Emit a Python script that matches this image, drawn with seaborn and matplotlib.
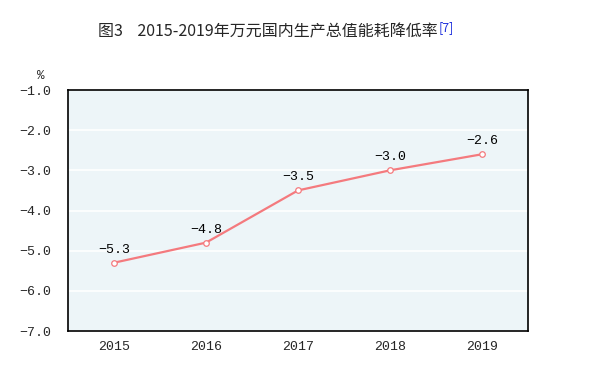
import matplotlib
matplotlib.use('Agg')
import matplotlib.pyplot as plt
import seaborn as sns
import pandas as pd

# data
years = ['2015', '2016', '2017', '2018', '2019']
rate = [-5.3, -4.8, -3.5, -3.0, -2.6]
y_ticks = [-7.0, -6.0, -5.0, -4.0, -3.0, -2.0, -1.0]

title_main = '图3    2015-2019年万元国内生产总值能耗降低率'
title_note = '[7]'

df = pd.DataFrame({'pos': range(len(years)), 'year': years, 'rate': rate})

sns.set_style('white')
plt.rcParams['font.family'] = ['Noto Sans CJK SC', 'DejaVu Sans']

mono = 'Liberation Mono'
line_color = '#F47A7E'


def fmt(v):
    return f'{v:.1f}'.replace('-', '\u2212')


fig = plt.figure(figsize=(6.01, 3.73), dpi=100)
ax = fig.add_axes([68 / 601, 1 - 331 / 373, 460 / 601, 241 / 373])
ax.set_facecolor('#EDF5F8')

sns.lineplot(data=df, x='pos', y='rate', ax=ax, color=line_color, linewidth=1.6,
             marker='o', markersize=4, markerfacecolor='white',
             markeredgecolor=line_color, markeredgewidth=0.9)

for i, v in enumerate(rate):
    ax.annotate(fmt(v), (i, v), xytext=(0, 5),
                textcoords='offset points', ha='center', va='bottom',
                fontsize=9.5, family=mono, color='black')

ax.set_xlim(-0.5, len(years) - 0.5)
ax.set_ylim(-7.0, -1.0)
ax.set_yticks(y_ticks)
ax.set_yticklabels([fmt(t) for t in y_ticks], family=mono, fontsize=9.5)

# category boundaries get the tick marks, labels sit in the middle
ax.set_xticks([i + 0.5 for i in range(len(years) - 1)])
ax.set_xticklabels([])
ax.set_xticks(range(len(years)), minor=True)
ax.set_xticklabels(years, minor=True, family=mono, fontsize=9.5)
ax.tick_params(axis='x', which='major', direction='in', length=4, width=1, color='black')
ax.tick_params(axis='x', which='minor', length=0, pad=7)
ax.tick_params(axis='y', direction='in', length=4, width=1, color='black', pad=12)

ax.yaxis.grid(True, color='white', linewidth=1.2)
ax.set_axisbelow(True)
for s in ax.spines.values():
    s.set_color('black')
    s.set_linewidth(1.2)
    s.set_visible(True)
ax.set_xlabel('')
ax.set_ylabel('')

fig.text(41 / 601, 1 - 76 / 373, '%', ha='center', va='center', fontsize=9, family=mono)

t = fig.text(98 / 601, 1 - 32 / 373, title_main, ha='left', va='center', fontsize=11.5)
fig.canvas.draw()
bb = t.get_window_extent()
fig.text((bb.x1 + 1) / 601, (bb.y1 + 2) / 373, title_note, ha='left', va='top',
         fontsize=9, color='#2233DD')

fig.savefig('out.png', dpi=100)
